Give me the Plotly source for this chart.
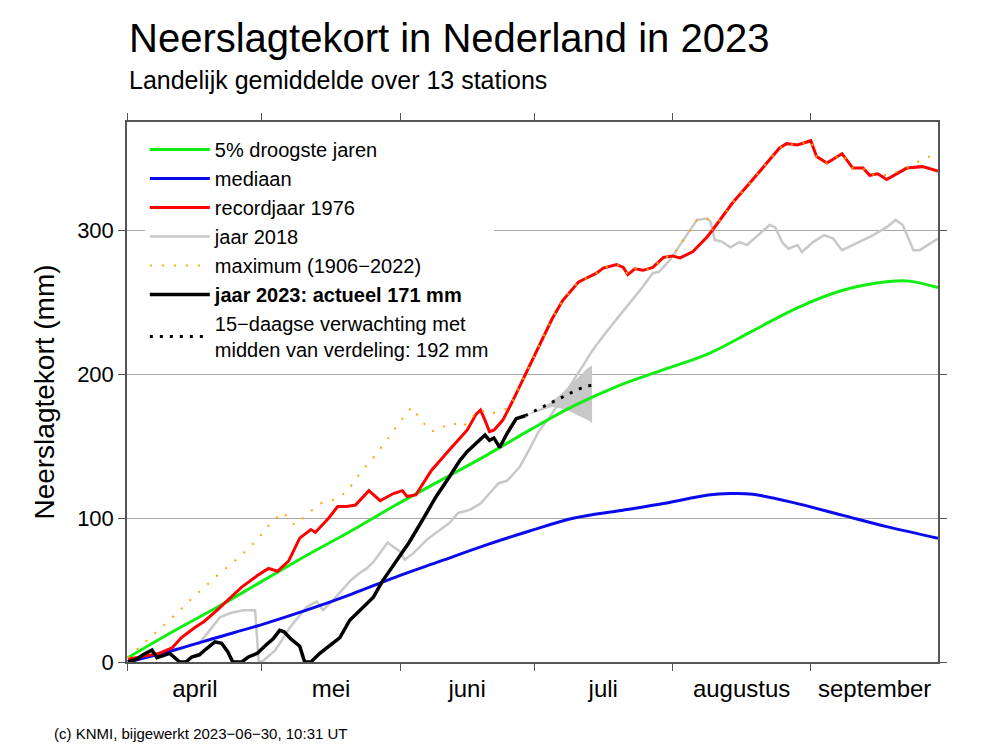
import plotly.graph_objects as go

# ---------------- data (day 0 = 1 april 2023) ----------------
month_names = ["april", "mei", "juni", "juli", "augustus", "september"]
month_start_days = [0, 30, 61, 91, 122, 153]
month_mid_days = [15, 45.5, 76, 106.5, 137.5, 167.3]

y_ticks = [0, 100, 200, 300]

green_days = [0, 10, 20, 30, 40, 50, 60, 70, 80, 90, 100, 110, 120, 130, 140, 150, 160, 170, 175, 181.5]
green_vals = [3, 21, 38, 56, 74, 91, 109, 126, 143, 161, 178, 192, 203, 214, 230, 246, 258, 264, 264.5, 260]

blue_days = [0, 10, 20, 30, 40, 50, 60, 70, 80, 90, 100, 110, 120, 130, 135, 140, 150, 160, 170, 181.5]
blue_vals = [0, 8, 17, 26, 36, 47, 59, 70, 81, 91, 100, 105, 110, 116, 117, 116.5, 110, 102, 94, 86]

red_days = [0, 4, 7, 10, 12, 15, 17, 20, 23, 25.5, 29, 31.5, 33.5, 36, 38.5, 41, 42, 45, 47, 49, 51,
            54, 56.5, 59.5, 61.5, 62.5, 64.5, 68, 72.5, 76, 78, 79, 80, 81, 82, 84, 86, 88, 90, 92,
            95, 97.4, 101, 103, 105, 106.5, 109.5, 111, 112, 113.6, 115.4, 117.6, 120, 122, 123.7,
            126.6, 129.7, 131, 135.5, 140, 146, 147.6, 150, 153, 154.3, 156.6, 160, 162.4, 164.7,
            166.2, 168, 170, 174.5, 178, 181.5]
red_vals = [2, 4, 6, 10, 17, 24, 28, 36, 45, 52, 60, 65, 63, 70, 86, 92, 90, 100, 108, 108, 109,
            119, 112, 117, 119, 115, 116, 133, 149, 161, 172, 175, 168, 160, 161, 168, 180, 193, 206, 219,
            238, 251, 264, 267, 270, 273.6, 276, 274, 269, 273, 272, 274, 281, 282, 280.6,
            285, 295, 300, 319, 335, 357, 360, 359, 362, 351, 346.5, 353, 343, 343,
            338, 339, 335, 343, 344, 341]

gray_days = [0, 3, 6, 9, 12, 14, 16, 18.4, 20.6, 23, 25.8, 28.5, 29.3, 30, 33, 36.3, 40, 42.3, 43.7,
             46, 47.5, 50, 52, 53.5, 55, 56.5, 58.2, 59, 60, 61, 62, 64, 67, 69, 72, 74, 76.6, 79,
             81, 83, 85, 87.8, 90, 92, 94.5, 98.3, 102, 104, 106.4, 110, 114.7, 117.6, 119, 121.4,
             123.7, 126, 127.5, 129.7, 130.5, 131.5, 133, 135, 137, 138.7, 143.8, 145, 146.7, 148,
             150, 151, 153.5, 156, 158, 160, 162.4, 164, 167, 170, 172, 173.6, 176, 177.4, 181.5]
gray_vals = [0, 2, 6, 7, 9, 12, 13, 22, 31, 34, 36, 36, 1, 0, 8, 24, 38, 42, 36,
             43, 48, 57, 62, 65, 69.5, 76, 83, 81, 79, 76.6, 71, 75.6, 85, 89.6, 96.5, 103.5, 105.6, 110,
             117, 124, 126, 135.6, 148, 160, 170, 188, 206, 216, 226, 240, 258, 270, 271, 279,
             289.6, 300, 307, 308, 306, 293, 292, 288, 291.6, 289.6, 303.5, 302, 291, 287,
             289.6, 284.7, 291.6, 296.5, 294, 286, 289.6, 291.6, 296.5, 302, 307, 303.5, 286, 286, 294]

max_days = [0, 5, 10, 15, 20, 25, 29, 32, 34.7, 37.4, 40, 43, 46, 49, 52, 55, 58, 61, 63.6, 65.4,
            68, 70.5, 72.8, 75, 77, 79, 81, 83, 85, 86, 88, 90, 92, 95, 97.4, 101, 103, 105, 106.5,
            109.5, 111, 112, 113.6, 115.4, 117.6, 120, 122, 123.7, 126, 127.5, 129.7, 130.5, 131,
            135.5, 140, 146, 147.6, 150, 153, 154.3, 156.6, 160, 162.4, 164.7, 166.2, 168, 170,
            172, 174.5, 176.5, 178, 181.5]
max_vals = [3, 17, 31, 46, 60, 73, 85, 96.5, 104, 95, 102, 110, 112.5, 118, 131, 142, 154, 167, 177, 169,
            160, 163, 166, 163, 170, 175, 172, 174, 176, 180, 193, 206, 219, 238, 251, 264, 267, 270, 273.6,
            276, 274, 269, 273, 272, 274, 281, 282, 289.6, 300, 307, 308, 306, 300,
            319, 335, 357, 360, 359, 362, 351, 346.5, 353, 343, 343, 338, 339, 338,
            340, 343, 346.5, 349, 353.5]

y2023_days = [0, 2, 3.4, 5.4, 6.5, 9.4, 11.6, 13, 14.3, 16, 17.5, 19.5, 21, 22.4, 23.5, 25.5, 27, 29,
              31, 32.5, 34, 35, 36.5, 38.5, 39.6, 41, 43, 45, 47.5, 49.7, 52.6, 55, 57, 60, 63, 66,
              69, 72, 74.4, 76, 78, 80, 81, 82, 83.3, 85, 87, 88, 89]
y2023_vals = [0, 2, 5, 8.3, 3, 6, 0, 0, 3.5, 5, 9, 14, 13, 7, 0, 0, 3.5, 6,
              12, 16, 22, 21, 16, 11, 0, 0, 6, 11, 17, 29, 37.5, 45, 56, 69, 83, 98.6,
              114.6, 128.5, 140, 146, 152, 157.6, 154, 155.6, 149, 159, 169, 170, 171]

fc_days = [89, 91, 94, 96, 98, 100.6, 102.8, 104]
fc_vals = [171, 174, 178.5, 182, 185, 189, 191.7, 192]

band_days = [89, 91, 93, 95, 97, 99, 101, 103, 104]
band_upper = [171, 174, 177, 181, 186, 192, 198, 204, 206]
band_lower = [171, 173, 175, 177, 176, 174, 171, 168, 166]

# ---------------- figure ----------------
FONT = "Liberation Sans, Arial, Helvetica, sans-serif"
fig = go.Figure()

fig.add_trace(go.Scatter(
    x=band_days + band_days[::-1], y=band_upper + band_lower[::-1],
    fill="toself", fillcolor="#c8c8c8", line=dict(width=0, color="#c8c8c8"),
    mode="lines", showlegend=False, hoverinfo="skip"))

fig.add_trace(go.Scatter(x=gray_days, y=gray_vals, mode="lines", name="jaar 2018",
                         line=dict(color="#c8c8c8", width=2.5), legendrank=4))
fig.add_trace(go.Scatter(x=blue_days, y=blue_vals, mode="lines", name="mediaan",
                         line=dict(color="#0a0aee", width=3, shape="spline"), legendrank=2))
fig.add_trace(go.Scatter(x=green_days, y=green_vals, mode="lines", name="5% droogste jaren",
                         line=dict(color="#11ee11", width=3, shape="spline"), legendrank=1))
fig.add_trace(go.Scatter(x=red_days, y=red_vals, mode="lines", name="recordjaar 1976",
                         line=dict(color="#ff0000", width=3), legendrank=3))
fig.add_trace(go.Scatter(x=max_days, y=max_vals, mode="lines", name="maximum (1906−2022)",
                         line=dict(color="#ffa500", width=2, dash="2px,10px"), legendrank=5))
fig.add_trace(go.Scatter(x=y2023_days, y=y2023_vals, mode="lines",
                         name="<b>jaar 2023: actueel 171 mm</b>",
                         line=dict(color="#000000", width=3.5), legendrank=6))
fig.add_trace(go.Scatter(x=fc_days, y=fc_vals, mode="lines",
                         name="15−daagse verwachting met<br>midden van verdeling: 192 mm",
                         line=dict(color="#000000", width=3, dash="3px,7px"), legendrank=7))

axis_color = "#555555"
fig.update_xaxes(
    range=[-0.2, 181.5], showgrid=False, zeroline=False,
    showline=True, linecolor=axis_color, linewidth=1.5, mirror="ticks",
    tickmode="array", tickvals=month_mid_days, ticktext=month_names,
    ticks="outside", ticklen=4, tickcolor="rgba(0,0,0,0)",
    tickfont=dict(family=FONT, size=24, color="#000"),
    minor=dict(tickmode="array", tickvals=month_start_days, ticks="outside",
               ticklen=7, tickcolor=axis_color, tickwidth=1.2, showgrid=False),
)
fig.update_yaxes(
    range=[0, 375], zeroline=False,
    showline=True, linecolor=axis_color, linewidth=1.5, mirror="ticks",
    tickmode="array", tickvals=y_ticks, ticks="outside", ticklen=7,
    tickcolor=axis_color, tickwidth=1.2,
    showgrid=True, gridcolor="#a8a8a8", gridwidth=1,
    tickfont=dict(family=FONT, size=22, color="#000"),
    title=dict(text="Neerslagtekort (mm)", font=dict(family=FONT, size=28, color="#000"), standoff=14),
)

fig.update_layout(
    width=988, height=752,
    margin=dict(l=127, r=50, t=122, b=90),
    paper_bgcolor="white", plot_bgcolor="white",
    font=dict(family=FONT, color="#000"),
    showlegend=True,
    legend=dict(x=0.022, y=0.985, xanchor="left", yanchor="top",
                bgcolor="white", borderwidth=0, itemwidth=60,
                font=dict(family=FONT, size=20, color="#000"),
                traceorder="normal"),
    annotations=[
        dict(text="Neerslagtekort in Nederland in 2023", xref="paper", yref="paper",
             x=0.0, y=1.155, xanchor="left", yanchor="middle", showarrow=False,
             font=dict(family=FONT, size=40, color="#000")),
        dict(text="Landelijk gemiddelde over 13 stations", xref="paper", yref="paper",
             x=0.0, y=1.077, xanchor="left", yanchor="middle", showarrow=False,
             font=dict(family=FONT, size=25, color="#000")),
        dict(text="(c) KNMI, bijgewerkt 2023−06−30, 10:31 UT", xref="paper", yref="paper",
             x=-0.092, y=-0.132, xanchor="left", yanchor="middle", showarrow=False,
             font=dict(family=FONT, size=15, color="#000")),
    ],
)

fig.write_html("out.html", config={"displayModeBar": False},
               post_script="document.body.style.margin='0px';")
